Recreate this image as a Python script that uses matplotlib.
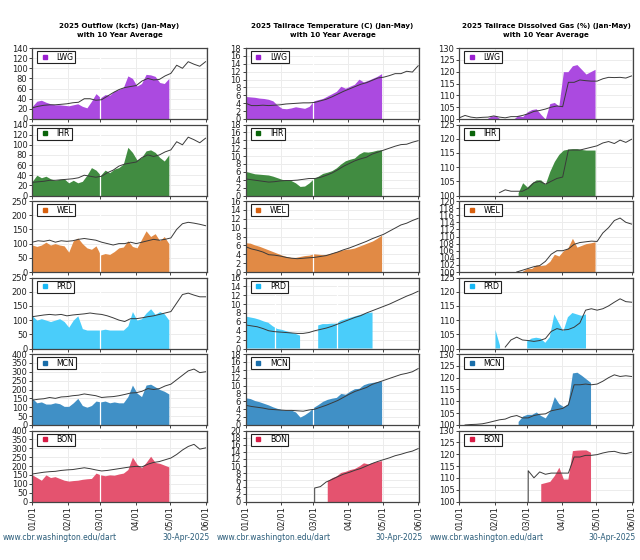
import numpy as np
import pandas as pd
import matplotlib
matplotlib.use('Agg')
import matplotlib.pyplot as plt
import matplotlib.dates as mdates
from matplotlib.lines import Line2D

plt.rcParams['font.family'] = ['DejaVu Sans']
nan = np.nan

# ---------------- data ----------------
stations = ['LWG', 'IHR', 'WEL', 'PRD', 'MCN', 'BON']
col_titles = ['2025 Outflow (kcfs) (Jan-May)\nwith 10 Year Average',
              '2025 Tailrace Temperature (C) (Jan-May)\nwith 10 Year Average',
              '2025 Tailrace Dissolved Gas (%) (Jan-May)\nwith 10 Year Average']
footer_left = 'www.cbr.washington.edu/dart'
footer_right = '30-Apr-2025'
month_labels = ['01/01', '02/01', '03/01', '04/01', '05/01', '06/01']

# 2025 values: 31 samples, Jan 1 .. Apr 30
# 10-yr averages: 31 samples, Jan 1 .. Jun 1

# Outflow (kcfs)
lwg_flow = [25, 35, 37, 33, 30, 28, 28, 27, 26, 28, 30, 25, 22, 35, 50, 42, 48, 47, 55, 58, 62, 85, 80, 65, 70, 88, 87, 84, 72, 70, 80]
lwg_flow_avg = [22, 25, 27, 28, 28, 29, 30, 32, 33, 40, 40, 37, 38, 45, 52, 58, 62, 64, 66, 75, 80, 77, 78, 85, 90, 106, 100, 113, 108, 104, 113]
ihr_flow = [28, 40, 35, 38, 33, 30, 32, 33, 25, 30, 25, 28, 40, 55, 50, 40, 50, 45, 52, 55, 62, 95, 85, 70, 75, 88, 90, 85, 75, 68, 80]
ihr_flow_avg = [26, 27, 28, 30, 30, 31, 32, 33, 35, 40, 38, 36, 38, 45, 50, 58, 62, 64, 66, 75, 80, 77, 80, 86, 90, 106, 100, 115, 110, 104, 113]
wel_flow = [95, 90, 95, 105, 95, 100, 95, 92, 70, 110, 120, 100, 85, 80, 92, 60, 65, 62, 72, 85, 88, 110, 90, 85, 115, 145, 125, 135, 110, 125, 100]
wel_flow_avg = [105, 110, 108, 112, 105, 110, 108, 110, 115, 118, 115, 112, 105, 100, 95, 100, 100, 105, 100, 105, 110, 115, 112, 115, 120, 150, 170, 175, 172, 168, 163]
prd_flow = [115, 100, 105, 100, 95, 100, 105, 95, 75, 100, 115, 70, 65, 65, 65, 65, 68, 65, 65, 65, 65, 80, 130, 100, 105, 125, 140, 120, 130, 122, 100]
prd_flow_avg = [112, 115, 118, 120, 118, 120, 115, 118, 120, 122, 125, 122, 120, 115, 108, 100, 95, 105, 105, 108, 112, 115, 120, 125, 130, 160, 190, 195, 188, 182, 182]
mcn_flow = [150, 125, 130, 118, 118, 125, 120, 105, 105, 125, 150, 110, 100, 110, 135, 130, 135, 125, 130, 125, 125, 160, 225, 180, 160, 225, 230, 215, 200, 190, 175]
mcn_flow_avg = [140, 145, 148, 155, 150, 158, 160, 165, 168, 175, 170, 165, 155, 158, 160, 165, 172, 180, 182, 190, 205, 200, 205, 220, 230, 255, 280, 305, 315, 295, 300]
bon_flow = [150, 135, 120, 150, 135, 140, 130, 120, 115, 118, 120, 125, 128, 130, 160, 150, 145, 150, 148, 155, 160, 180, 250, 210, 190, 220, 255, 220, 215, 205, 195]
bon_flow_avg = [155, 160, 165, 168, 170, 175, 178, 180, 185, 190, 185, 178, 172, 175, 180, 185, 190, 195, 198, 195, 210, 220, 225, 235, 245, 265, 290, 310, 322, 295, 302]

# Tailrace temperature (C)
lwg_temp = [5.7, 5.6, 5.5, 5.3, 5.2, 5.0, 4.6, 3.5, 2.7, 2.6, 2.8, 3.1, 2.9, 2.7, 3.2, 4.6, 4.9, 5.2, 5.8, 6.4, 7.0, 8.3, 7.8, 8.3, 8.8, 10.1, 9.4, 9.8, 10.3, 10.8, 11.5]
lwg_temp_avg = [4.0, 3.4, 3.4, 3.5, 3.4, 3.5, 3.6, 3.8, 3.9, 4.0, 4.1, 4.1, 4.2, 4.6, 5.0, 5.6, 6.3, 7.0, 7.6, 8.2, 8.8, 9.2, 9.8, 10.4, 10.6, 11.0, 11.5, 11.5, 12.1, 11.9, 13.5]
ihr_temp = [6.1, 5.8, 5.5, 5.4, 5.3, 5.2, 4.9, 4.5, 4.1, 3.9, 3.8, 3.2, 2.3, 2.4, 3.2, 4.3, 4.9, 5.6, 5.9, 6.3, 7.0, 8.0, 8.8, 9.2, 9.5, 10.5, 11.1, 11.0, 11.2, 11.5, 11.6]
ihr_temp_avg = [4.2, 4.0, 3.8, 3.6, 3.4, 3.5, 3.7, 3.8, 3.8, 3.9, 4.1, 4.3, 4.3, 4.6, 5.1, 5.7, 6.5, 7.4, 8.1, 8.8, 9.3, 9.7, 10.5, 11.0, 11.5, 12.0, 12.5, 12.9, 13.0, 13.5, 13.9]
wel_temp = [6.6, 6.5, 6.1, 5.8, 5.4, 5.0, 4.6, 4.2, 3.8, 3.5, 3.3, 3.3, 3.5, 3.7, 3.8, 4.1, 4.0, 3.9, 4.0, 4.3, 4.6, 4.9, 5.1, 5.2, 5.4, 5.8, 6.2, 6.6, 7.0, 7.6, 8.3]
wel_temp_avg = [5.7, 5.2, 4.9, 4.5, 3.9, 3.8, 3.6, 3.3, 3.1, 3.0, 3.1, 3.2, 3.3, 3.5, 3.7, 4.1, 4.5, 5.0, 5.4, 5.9, 6.4, 6.9, 7.5, 8.0, 8.5, 9.2, 9.9, 10.6, 11.0, 11.6, 12.1]
prd_temp = [7.2, 7.0, 6.8, 6.5, 6.1, 5.8, 5.0, 4.4, 4.2, 3.9, 3.6, 3.3, 2.9, nan, nan, nan, 5.2, 5.5, 5.5, 5.6, 5.6, 6.3, 6.6, 6.9, 7.2, 7.5, 7.8, 8.0, 8.1, nan, nan]
prd_temp_avg = [5.3, 5.1, 4.9, 4.5, 4.0, 3.8, 3.7, 3.6, 3.5, 3.4, 3.4, 3.6, 4.0, 4.3, 4.6, 5.0, 5.5, 6.0, 6.5, 7.0, 7.4, 8.0, 8.5, 9.0, 9.5, 10.0, 10.6, 11.2, 11.8, 12.3, 12.9]
mcn_temp = [6.9, 6.7, 6.2, 5.9, 5.5, 5.1, 4.6, 4.2, 3.9, 3.8, 3.8, 3.3, 2.0, 2.6, 3.4, 4.5, 5.2, 6.0, 6.5, 6.8, 7.0, 8.0, 7.8, 8.6, 9.2, 9.3, 10.2, 10.6, 10.8, 11.0, 11.2]
mcn_temp_avg = [5.0, 4.7, 4.5, 4.3, 4.0, 3.9, 3.8, 3.7, 3.7, 3.6, 3.5, 3.8, 4.0, 4.5, 5.0, 5.6, 6.2, 7.0, 7.8, 8.5, 9.0, 9.5, 10.3, 10.8, 11.3, 11.8, 12.3, 12.8, 13.1, 13.5, 14.3]
bon_temp = [nan] * 18 + [5.8, 6.7, 7.2, 8.2, 8.5, 9.0, 9.3, 10.0, 10.9, 10.6, 11.0, 11.3, 11.5]
bon_temp_avg = [nan] * 12 + [3.8, 4.2, 5.5, 6.2, 7.0, 7.7, 8.2, 8.8, 9.3, 10.0, 10.7, 11.3, 11.8, 12.3, 12.9, 13.3, 13.8, 14.2, 14.9]

# Tailrace dissolved gas (%)
lwg_tdg = [100, 100, 100, 100, 100, 100, 100, 101.2, 101.5, 100, 100, 100, 100, 101.5, 101, 103, 104, 104.3, 102, 100, 106.5, 107, 105.5, 120, 120, 122.5, 123, 121, 119, 120, 121]
lwg_tdg_avg = [100.5, 101.5, 100.8, 100.5, 100.7, 100.8, 101.3, 100.8, 100.5, 101, 101, 101.5, 102.2, 103.2, 103.6, 104.2, 105, 105.5, 105.2, 115.5, 115.5, 116.5, 116.2, 116, 116, 117, 117.6, 117.5, 117.6, 117.3, 118.2]
ihr_tdg = [nan] * 13 + [101, 104.5, 103, 104.5, 105.5, 105.5, 104, 108.5, 112, 114.5, 116, 116.3, 116.5, 116.5, 116.2, 116, 116, 116]
ihr_tdg_avg = [nan] * 7 + [101, 102, 101.5, 101.5, 101.5, 102.5, 104.5, 105, 104, 105, 106, 106.5, 116, 116, 116, 116.5, 117, 117.5, 118.5, 119, 118.3, 119.5, 118.7, 119.8]
wel_tdg = [nan] * 14 + [100.3, 101, 101, 102, 101.8, 102, 103, 105, 104.5, 106, 106.8, 109.5, 107, 107.5, 108, 108.2, 108.5]
wel_tdg_avg = [nan] * 10 + [100, 100.5, 101, 101.5, 101.8, 103, 105, 106, 106, 106.5, 107.8, 108.3, 108.5, 108.7, 108.6, 111, 112.5, 114.5, 115.2, 114, 113.5]
prd_tdg = [nan] * 8 + [106.5, 101, nan, nan, nan, nan, nan, 102.5, 103.5, 103.8, 103.5, 102, 104, 112, 109, 106, 111, 112.5, 112, 111.5, 112, nan, nan]
prd_tdg_avg = [nan] * 8 + [100.5, 103, 104, 103, 102.8, 102.5, 102.8, 103.5, 106, 107, 106.5, 106.7, 107.5, 109, 113.5, 114, 113.5, 114, 115, 116.3, 117.5, 116.5, 116.3]
mcn_tdg = [nan] * 13 + [101.5, 103.8, 104.5, 104.5, 105.5, 104, 103, 106, 112, 109, 107.8, 109, 122, 122.3, 121, 119.5, 118, nan]
mcn_tdg_avg = [nan, 100, 100.2, 100.3, 100.5, 101, 101.6, 102.2, 102.5, 103.5, 104, 103, 103, 104, 104.5, 104.7, 106, 106.5, 107, 108.5, 117, 117, 117.3, 117, 117.3, 118.5, 120, 121.2, 120.5, 120.8, 120.5]
bon_tdg = [nan] * 18 + [107.5, 108, 108.5, 111, 114.5, 109.5, 109.5, 121.5, 121.7, 121.8, 121.8, 120.8, nan]
bon_tdg_avg = [nan] * 12 + [113, 110, 112.5, 111.5, 112, 112, 112, 112, 118.8, 118.8, 119.5, 119.5, 119.8, 120.5, 121, 121.2, 120.5, 120.2, 120.8]

# single missing days in the 2025 record (shown as thin white gaps)
flow_gaps = [['2025-03-01']] * 6
temp_gaps = [['2025-03-01'], ['2025-03-01'], ['2025-03-01'], ['2025-01-27', '2025-03-22'], ['2025-03-01'], []]
tdg_gaps = [[]] * 6

flow = [lwg_flow, ihr_flow, wel_flow, prd_flow, mcn_flow, bon_flow]
flow_avg = [lwg_flow_avg, ihr_flow_avg, wel_flow_avg, prd_flow_avg, mcn_flow_avg, bon_flow_avg]
temp = [lwg_temp, ihr_temp, wel_temp, prd_temp, mcn_temp, bon_temp]
temp_avg = [lwg_temp_avg, ihr_temp_avg, wel_temp_avg, prd_temp_avg, mcn_temp_avg, bon_temp_avg]
tdg = [lwg_tdg, ihr_tdg, wel_tdg, prd_tdg, mcn_tdg, bon_tdg]
tdg_avg = [lwg_tdg_avg, ihr_tdg_avg, wel_tdg_avg, prd_tdg_avg, mcn_tdg_avg, bon_tdg_avg]

# axis ranges (min, max, step)
flow_ylim = [(0, 140, 20), (0, 140, 20), (0, 250, 50), (0, 250, 50), (0, 400, 50), (0, 400, 50)]
temp_ylim = [(0, 18, 2), (0, 18, 2), (0, 16, 2), (0, 16, 2), (0, 18, 2), (0, 20, 2)]
tdg_ylim = [(100, 130, 5), (100, 125, 5), (100, 120, 2), (100, 125, 5), (100, 130, 5), (100, 130, 5)]

# ---------------- style ----------------
fill_colors = ['#ab4ae0', '#418c41', '#e18a45', '#4acdfa', '#4090c6', '#e4536f']
marker_colors = ['#9a1fd0', '#0a640a', '#d8600e', '#18b8f5', '#1a6eaa', '#d81b45']
avg_color = '#3a3a3a'
footer_color = '#2b5d7a'

W, H = 640, 560
fig = plt.figure(figsize=(W / 100, H / 100), dpi=100)

col_left = [32.3, 245.7, 459.3]
col_right = [206.7, 419.3, 632.7]
row_top = [48, 124.5, 201, 277.5, 354, 430.5]
ax_h = 71

d_cur = pd.date_range('2025-01-01', '2025-04-30', periods=31)
d_avg = pd.date_range('2025-01-01', '2025-06-01', periods=31)
xmin = pd.Timestamp('2025-01-01')
xmax = pd.Timestamp('2025-06-02')
month_ticks = pd.to_datetime(['2025-01-01', '2025-02-01', '2025-03-01', '2025-04-01', '2025-05-01', '2025-06-01'])

columns = [(flow, flow_avg, flow_ylim, flow_gaps), (temp, temp_avg, temp_ylim, temp_gaps),
           (tdg, tdg_avg, tdg_ylim, tdg_gaps)]

for c, (cur_list, avg_list, lims, gaps) in enumerate(columns):
    for r in range(6):
        l = col_left[c] / W
        w = (col_right[c] - col_left[c]) / W
        b = 1 - (row_top[r] + ax_h) / H
        ax = fig.add_axes([l, b, w, ax_h / H])
        y0, y1, step = lims[r]
        cur = np.array(cur_list[r], dtype=float)
        avg = np.array(avg_list[r], dtype=float)
        mask = ~np.isnan(cur)
        ax.fill_between(d_cur, y0, np.where(mask, cur, y0), where=mask,
                        color=fill_colors[r], lw=0, zorder=2)
        for g in gaps[r]:
            ax.axvline(pd.Timestamp(g), color='white', lw=0.9, zorder=2.5)
        am = ~np.isnan(avg)
        ad = d_avg[am]
        av = avg[am]
        if c > 0 and r == 5:
            ad = ad.insert(0, ad[0])
            av = np.insert(av, 0, y0)
        ax.plot(ad, av, color=avg_color, lw=0.7, zorder=3)

        ax.set_xlim(xmin, xmax)
        ax.set_ylim(y0, y1)
        ax.set_yticks(np.arange(y0, y1 + 0.001, step))
        ax.set_xticks(month_ticks)
        if r == 5:
            ax.set_xticklabels(month_labels, rotation=90, fontsize=6)
        else:
            ax.set_xticklabels([])
        ax.tick_params(axis='both', length=2, width=0.6, pad=1.5, colors='#222222', labelsize=6)
        ax.grid(True, color='#ececec', lw=0.7, zorder=0)
        ax.set_axisbelow(True)
        for s in ax.spines.values():
            s.set_color('#444444')
            s.set_linewidth(0.9)
        h = Line2D([], [], marker='s', ls='none', color=marker_colors[r], markersize=3.4)
        leg = ax.legend([h], [stations[r]], loc='upper left', fontsize=5.6, frameon=True,
                        fancybox=False, borderpad=0.2, handlelength=1.6, handletextpad=0.7,
                        borderaxespad=0.4, bbox_to_anchor=(0.01, 1.0))
        leg.get_frame().set_edgecolor('#222222')
        leg.get_frame().set_linewidth(0.8)
        leg.get_frame().set_alpha(1)

    cx = (col_left[c] + col_right[c]) / 2 / W
    fig.text(cx, 1 - 30.5 / H, col_titles[c], ha='center', va='center', fontsize=5.1,
             fontweight='bold', linespacing=1.7)
    fig.text((col_left[c] - 29.5) / W, 1 - 538 / H, footer_left, ha='left', va='center',
             fontsize=5.5, color=footer_color)
    fig.text((col_right[c] + 3) / W, 1 - 538 / H, footer_right, ha='right', va='center',
             fontsize=5.5, color=footer_color)

fig.savefig('out.png', dpi=100)
